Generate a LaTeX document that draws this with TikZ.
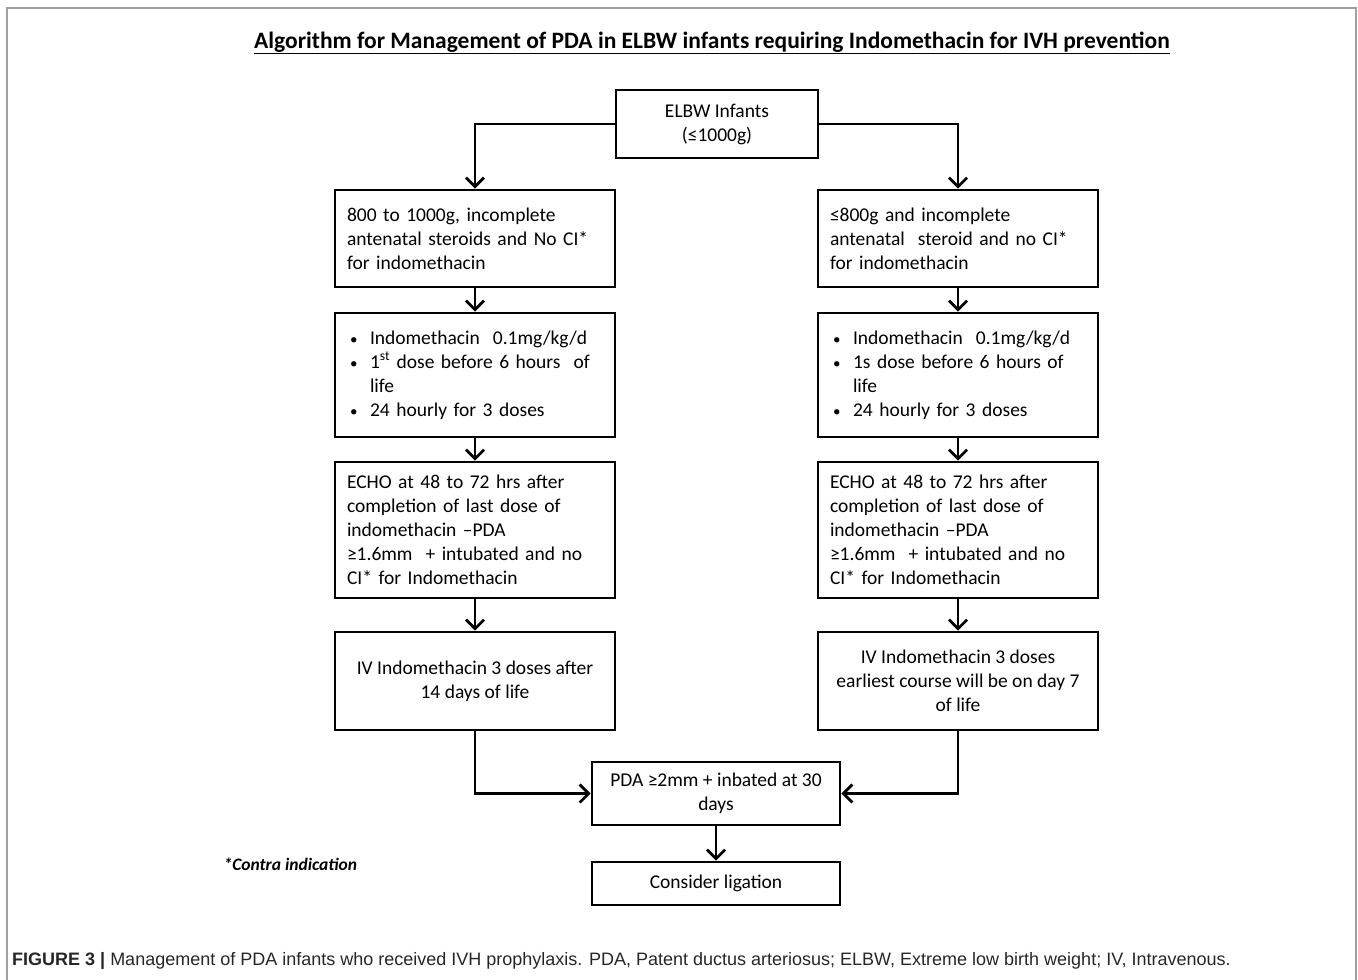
\documentclass[tikz,border=0pt]{standalone}
\usepackage{fontspec}
\setmainfont{Carlito}
\newfontfamily\capfont{Liberation Sans}
\usetikzlibrary{arrows.meta}
\newcommand{\bitem}{\hspace*{3pt}\makebox[20pt][l]{\fontsize{15}{15}\selectfont •}}
\begin{document}
\begin{tikzpicture}[x=1pt,y=-1pt,
  flowbox/.style={draw=black, line width=2.6pt, inner sep=0pt, font=\fontsize{19.5}{24}\selectfont, fill=white},
  lbox/.style={flowbox, minimum width=280pt, align=left},
  cbox/.style={flowbox, align=center},
  flowarrow/.style={line width=2.8pt, -{Straight Barb[length=9pt,width=18pt,line width=2.8pt]}}]
\useasboundingbox (0,0) rectangle (1358,980);
% outer frame
\draw[gray!75, line width=1.6pt] (7,990) -- (7,8) -- (1356,8) -- (1356,990);
% title
\node (title) at (712,43) {\fontsize{23.5}{26}\selectfont\bfseries\underline{Algorithm for Management of PDA in ELBW infants requiring Indomethacin for IVH prevention}};
% top box
\node[cbox, minimum width=202pt, minimum height=68pt] (top) at (717,124) {ELBW Infants\\(≤1000g)};
% left column
\node[lbox, minimum height=97pt, text width=256pt] (l1) at (475,238.5) {800 to 1000g, incomplete\\antenatal steroids and No CI*\\for indomethacin};
\node[lbox, minimum height=124pt, text width=256pt] (l2) at (475,375) {\bitem Indomethacin\ \ 0.1mg/kg/d\\\bitem 1\textsuperscript{st} dose before 6 hours\ \ of\\\hspace*{23pt}life\\\bitem 24 hourly for 3 doses};
\node[lbox, minimum height=136pt, text width=256pt] (l3) at (475,530) {ECHO at 48 to 72 hrs after\\completion of last dose of\\indomethacin --PDA\\≥1.6mm\ \ + intubated\ and no\\CI* for Indomethacin};
\node[cbox, minimum width=280pt, minimum height=98pt] (l4) at (475,681) {IV Indomethacin 3 doses after\\14 days of life};
% right column
\node[lbox, minimum height=97pt, text width=256pt] (r1) at (958,238.5) {≤800g and incomplete\\antenatal\ \ steroid and no CI*\\for indomethacin};
\node[lbox, minimum height=124pt, text width=256pt] (r2) at (958,375) {\bitem Indomethacin\ \ 0.1mg/kg/d\\\bitem 1s dose before 6 hours of\\\hspace*{23pt}life\\\bitem 24 hourly for 3 doses};
\node[lbox, minimum height=136pt, text width=256pt] (r3) at (958,530) {ECHO at 48 to 72 hrs after\\completion of last dose of\\indomethacin --PDA\\≥1.6mm\ \ + intubated and no\\CI* for Indomethacin};
\node[cbox, minimum width=280pt, minimum height=98pt] (r4) at (958,681) {IV Indomethacin 3 doses\\earliest course will be on day 7\\of life};
% bottom
\node[cbox, minimum width=248pt, minimum height=63pt] (pda) at (716,793.5) {PDA ≥2mm + inbated at 30\\days};
\node[cbox, minimum width=248pt, minimum height=43pt] (lig) at (716,883.5) {Consider ligation};
\node[anchor=west, font=\fontsize{17.5}{20}\selectfont\bfseries\itshape] (ci) at (220,864) {*Contra indication};
% caption
\node[anchor=base west, inner sep=0pt, font=\capfont\fontsize{18}{20}\selectfont, text=black!85] (cap) at (12,965) {\textbf{FIGURE 3 |} Management of PDA infants who received IVH prophylaxis. PDA, Patent ductus arteriosus; ELBW, Extreme low birth weight; IV, Intravenous.};
% connectors
\draw[flowarrow] (top.west) -| (l1.north);
\draw[flowarrow] (top.east) -| (r1.north);
\draw[flowarrow] (l1) -- (l2);
\draw[flowarrow] (l2) -- (l3);
\draw[flowarrow] (l3) -- (l4);
\draw[flowarrow] (r1) -- (r2);
\draw[flowarrow] (r2) -- (r3);
\draw[flowarrow] (r3) -- (r4);
\draw[flowarrow] (l4.south) |- (pda.west);
\draw[flowarrow] (r4.south) |- (pda.east);
\draw[flowarrow] (pda) -- (lig);
\end{tikzpicture}
\end{document}
